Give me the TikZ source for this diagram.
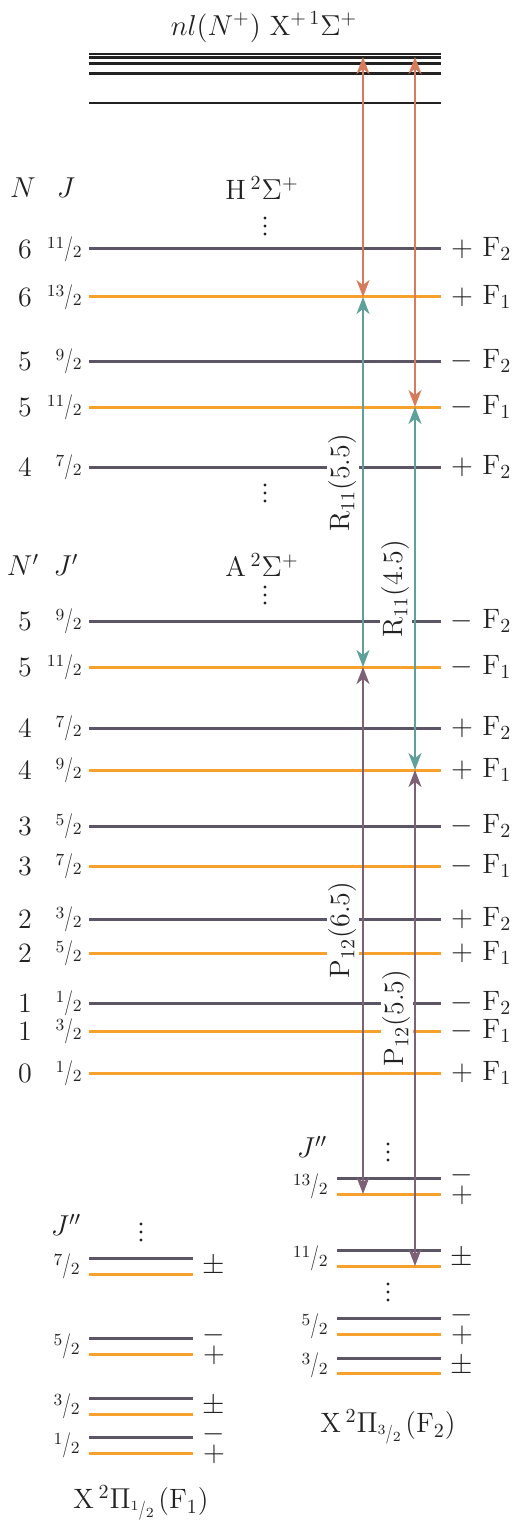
\documentclass[tikz,border=0pt]{standalone}
\usepackage{graphicx}
\usetikzlibrary{arrows.meta}
\definecolor{lvgray}{HTML}{5B5566}
\definecolor{lvor}{HTML}{F5A12B}
\definecolor{arOr}{HTML}{D67B5C}
\definecolor{arTe}{HTML}{5FA09A}
\definecolor{arPu}{HTML}{7D6276}
\definecolor{ionk}{HTML}{222222}
\definecolor{txk}{HTML}{222222}
% half-integer fraction like 11/2
\newcommand\hf[2]{\raisebox{0.6ex}{\fontsize{8.5}{8.5}\selectfont #1}\scalebox{0.7}[1]{\fontsize{12.5}{12.5}\selectfont/}\raisebox{-0.2ex}{\fontsize{8.5}{8.5}\selectfont #2}}
\newcommand\sfr[2]{\raisebox{0.45ex}{\fontsize{7}{7}\selectfont #1}\scalebox{0.75}[1]{\fontsize{9.5}{9.5}\selectfont/}\raisebox{-0.15ex}{\fontsize{7}{7}\selectfont #2}}
\begin{document}
\begin{tikzpicture}[x=0.5pt,y=-0.5pt,
  font=\fontsize{14}{16}\selectfont, text=txk,
  glev/.style={lvgray, line width=1.5pt},
  olev/.style={lvor, line width=1.5pt},
  ilev/.style={ionk, line width=1.4pt},
  tip/.tip={Stealth[length=8.5pt,width=6.5pt,inset=2.5pt]},
  trans/.style={line width=1pt, tip-tip},
  tlabel/.style={rotate=90, fill=white, inner sep=1pt},
  lab/.style={inner sep=0pt},
  pair/.style={inner sep=0pt, align=center, font=\fontsize{14}{10}\selectfont},
  vdot/.pic={\foreach \d in {-8,0,8} \fill[txk] (0,\d) circle[radius=0.8pt];}
]
\useasboundingbox (0,0) rectangle (514,1524);

% ---------- ionization limit ----------
\node[lab] (title) at (264,27) {$nl(N^{+})$ X$^{+\,1}\Sigma^{+}$};
\foreach \y in {54,57.5,63.5,73.5,103} \draw[ilev] (89,\y) -- (441,\y);

% ---------- H and A levels ----------
\node[lab] (Nh) at (23,188) {$N$};
\node[lab] (Jh) at (66,188) {$J$};
\node[lab] (Hst) at (262,188) {H\,$^{2}\Sigma^{+}$};
\pic (vd1) at (265,226) {vdot};
\pic (vd2) at (265,493) {vdot};
\node[lab] (Na) at (23,565) {$N'$};
\node[lab] (Ja) at (66,565) {$J'$};
\node[lab] (Ast) at (262,565) {A\,$^{2}\Sigma^{+}$};
\pic (vd3) at (265,595) {vdot};

\foreach \y/\n/\j/\c/\s/\f [count=\i] in {
  249/6/11/g/+/2, 297/6/13/o/+/1, 361/5/9/g/-/2, 407/5/11/o/-/1, 467/4/7/g/+/2,
  621/5/9/g/-/2, 667/5/11/o/-/1, 728/4/7/g/+/2, 770/4/9/o/+/1, 826/3/5/g/-/2,
  866/3/7/o/-/1, 919/2/3/g/+/2, 953/2/5/o/+/1, 1003/1/1/g/-/2, 1031/1/3/o/-/1,
  1073/0/1/o/+/1}{
  \draw[\c lev] (89,\y) -- (441,\y);
  \node[lab] (n\i) at (25,\y) {\n};
  \node[lab, anchor=east] (j\i) at (82,\y) {\hf{\j}{2}};
  \node[lab] (s\i) at (462,\y) {$\s$};
  \node[lab, anchor=west] (f\i) at (482,\y) {F$_{\f}$};
}

% ---------- X2Pi ladders ----------
\node[lab] (Jl) at (66,1225) {$J''$};
\pic (vd4) at (141,1232) {vdot};
\node[lab] (Jr) at (312,1147) {$J''$};
\pic (vd5) at (388,1152) {vdot};
\pic (vd6) at (388,1292) {vdot};

% left ladder  (gray y / orange y / J)
\foreach \g/\o/\j [count=\i] in {1258/1274/7, 1338/1354/5, 1398/1414/3, 1437/1453/1}{
  \draw[glev] (89,\g) -- (193,\g);
  \draw[olev] (89,\o) -- (193,\o);
  \node[lab, anchor=east] (lj\i) at (80,{(\g+\o)/2}) {\hf{\j}{2}};
}
\node[lab] (lp1) at (214,1266) {$\pm$};
\node[pair] (lm2) at (214,1345) {$-$\\$+$};
\node[lab] (lp3) at (214,1406) {$\pm$};
\node[pair] (lm4) at (214,1444) {$-$\\$+$};

% right ladder
\foreach \g/\o/\j [count=\i] in {1178/1194/13, 1250/1266/11, 1318/1334/5, 1358/1373/3}{
  \draw[glev] (337,\g) -- (441,\g);
  \draw[olev] (337,\o) -- (441,\o);
  \node[lab, anchor=east] (rj\i) at (328,{(\g+\o)/2}) {\hf{\j}{2}};
}
\node[pair] (rm1) at (462,1185) {$-$\\$+$};
\node[lab] (rp2) at (462,1258) {$\pm$};
\node[pair] (rm3) at (462,1325) {$-$\\$+$};
\node[lab] (rp4) at (462,1366) {$\pm$};

\node[lab] (Xl) at (141,1503) {X\,$^{2}\Pi$\raisebox{-0.55ex}{\sfr{1}{2}}\,(F$_1$)};
\node[lab] (Xr) at (388,1427) {X\,$^{2}\Pi$\raisebox{-0.55ex}{\sfr{3}{2}}\,(F$_2$)};

% ---------- transition labels ----------
\node[tlabel] (R55) at (343,483) {R$_{11}$(5.5)};
\node[tlabel] (R45) at (396,589) {R$_{11}$(4.5)};
\node[tlabel] (P65) at (343,930) {P$_{12}$(6.5)};
\node[tlabel] (P55) at (397,1018) {P$_{12}$(5.5)};

% ---------- transition end points ----------
\coordinate (ionA) at (363,57);
\coordinate (ionB) at (415,57);
\coordinate (H1) at (363,297);
\coordinate (H2) at (415,407);
\coordinate (A1) at (363,667);
\coordinate (A2) at (415,770);
\coordinate (X1) at (363,1194);
\coordinate (X2) at (415,1266);

\draw[trans, arOr] (ionA) -- (H1);
\draw[trans, arOr] (ionB) -- (H2);
\draw[trans, arTe] (H1) -- (A1);
\draw[trans, arTe] (H2) -- (A2);
\draw[trans, arPu] (A1) -- (X1);
\draw[trans, arPu] (A2) -- (X2);
\end{tikzpicture}
\end{document}
